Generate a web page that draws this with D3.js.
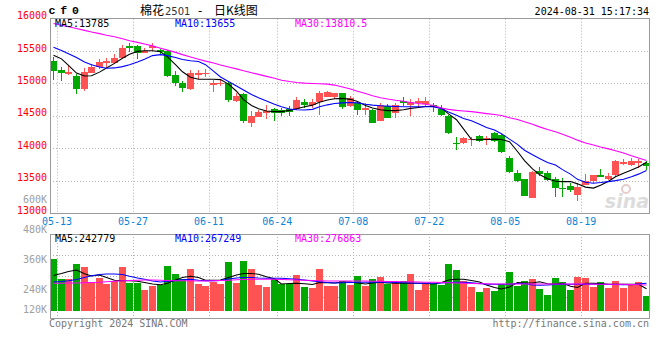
<!DOCTYPE html>
<html><head><meta charset="utf-8">
<script src="https://cdn.jsdelivr.net/npm/d3@7"></script>
<style>body{margin:0;background:#fff}svg{display:block}</style>
</head><body>
<svg id="c" width="660" height="360"></svg>
<script>
const dates = ["05-13","05-14","05-15","05-16","05-17","05-20","05-21","05-22","05-23","05-24",
"05-27","05-28","05-29","05-30","05-31","06-03","06-04","06-05","06-06","06-07",
"06-11","06-12","06-13","06-14","06-17","06-18","06-19","06-20","06-21",
"06-24","06-25","06-26","06-27","06-28","07-01","07-02","07-03","07-04","07-05",
"07-08","07-09","07-10","07-11","07-12","07-15","07-16","07-17","07-18","07-19",
"07-22","07-23","07-24","07-25","07-26","07-29","07-30","07-31","08-01","08-02",
"08-05","08-06","08-07","08-08","08-09","08-12","08-13","08-14","08-15","08-16",
"08-19","08-20","08-21","08-22","08-23","08-26","08-27","08-28","08-29","08-30"];
const open = [15350,15210,15145,15115,14920,15165,15250,15310,15310,15400,
15580,15580,15475,15545,15515,15500,15130,15010,14915,15130,
15140,14975,14985,15010,14730,14835,14395,14485,14550,14600,
14590,14605,14605,14720,14670,14710,14795,14795,14850,14655,
14705,14590,14590,14425,14650,14540,14730,14670,14695,14685,
14670,14600,14500,14085,14075,14130,14190,14125,14230,14205,
13855,13615,13520,13235,13655,13620,13520,13380,13415,13280,
13430,13495,13585,13525,13585,13750,13740,13775,13775];
const high = [15415,15260,15270,15140,15245,15300,15380,15400,15450,15595,
15620,15595,15550,15630,15530,15515,15190,15040,15210,15210,
15220,15055,15055,15025,14850,14850,14575,14590,14670,14625,
14625,14650,14795,14760,14755,14885,14890,14860,14860,14805,
14720,14695,14600,14695,14680,14695,14795,14755,14770,14785,
14695,14670,14515,14180,14180,14180,14210,14190,14250,14220,
13880,13665,13525,13650,13715,13650,13560,13535,13460,13470,
13595,13590,13675,13610,13820,13830,13855,13830,13805];
const low = [15055,15045,15130,14845,14885,15155,15225,15260,15295,15390,
15490,15375,15465,15505,15440,15105,14960,14875,14900,15065,
15095,14875,14960,14720,14720,14395,14330,14475,14450,14420,
14500,14505,14590,14615,14615,14515,14785,14755,14605,14640,
14515,14515,14385,14420,14460,14460,14650,14500,14640,14640,
14565,14500,14225,13975,14060,14035,14100,14050,14100,13930,
13610,13485,13260,13235,13570,13495,13240,13240,13330,13185,
13430,13470,13550,13510,13560,13740,13725,13690,13665];
const close = [15195,15155,15180,14920,15175,15260,15335,15345,15400,15550,
15545,15475,15505,15580,15480,15120,15010,14935,15165,15165,
15155,15010,15010,14745,14805,14420,14500,14565,14575,14540,
14540,14565,14745,14670,14720,14850,14865,14850,14640,14770,
14590,14615,14395,14670,14470,14670,14695,14715,14735,14735,
14630,14515,14240,14075,14165,14140,14110,14165,14115,13945,
13640,13495,13260,13640,13600,13510,13380,13365,13355,13405,
13495,13585,13560,13575,13810,13790,13805,13805,13730];
const volume = [364000,284000,284000,344000,333000,271000,289000,264000,276000,333000,
268000,268000,240000,257000,260000,337000,304000,283000,324000,264000,
257000,273000,265000,352000,269000,356000,324000,260000,253000,283000,
265000,263000,300000,253000,249000,324000,256000,256000,276000,260000,
296000,256000,284000,292000,264000,272000,276000,304000,240000,264000,
264000,259000,344000,320000,276000,252000,232000,248000,236000,264000,
312000,256000,276000,284000,244000,220000,288000,272000,240000,292000,
288000,252000,272000,248000,276000,248000,260000,272000,216000];
const ma5 = [15435,15380,15280,15160,15115,15120,15175,15240,15310,15390,
15450,15495,15505,15505,15490,15410,15290,15180,15095,15065,
15065,15065,15060,14990,14880,14750,14660,14610,14575,14565,
14565,14585,14610,14640,14665,14710,14745,14765,14770,14755,
14720,14660,14620,14595,14580,14580,14595,14615,14630,14645,
14645,14620,14530,14440,14300,14135,14130,14135,14140,14135,
14100,13950,13810,13680,13595,13530,13490,13485,13485,13450,
13400,13385,13430,13490,13560,13615,13665,13710,13785];
const ma10 = [15560,15510,15460,15400,15330,15290,15255,15235,15240,15260,
15290,15330,15375,15430,15445,15430,15400,15370,15350,15340,
15290,15190,15100,15030,14960,14900,14830,14780,14730,14680,
14640,14605,14595,14590,14600,14640,14670,14690,14700,14705,
14700,14680,14665,14655,14650,14645,14640,14640,14640,14640,
14640,14610,14560,14510,14460,14425,14370,14320,14280,14225,
14140,14060,13970,13900,13840,13780,13740,13670,13600,13520,
13475,13460,13470,13485,13500,13520,13560,13600,13655];
const ma30 = [15925,15900,15875,15850,15820,15795,15770,15745,15720,15690,
15660,15635,15610,15580,15545,15515,15480,15445,15410,15375,
15345,15315,15285,15255,15225,15195,15165,15140,15110,15080,
15050,15030,15015,15005,15000,14995,14990,14975,14945,14915,
14880,14845,14810,14780,14760,14740,14725,14705,14690,14680,
14660,14620,14600,14585,14575,14565,14550,14535,14520,14505,
14470,14445,14410,14370,14330,14290,14255,14215,14170,14125,
14080,14050,14020,13990,13960,13925,13885,13850,13810];
const volMa5 = [298,306,314,320,305,296,300,290,279,277,277,275,270,264,261,267,280,290,295,290,
279,279,280,290,300,306,306,303,293,285,264,266,267,265,262,270,269,268,272,272,
268,264,268,271,268,267,267,267,267,266,264,270,280,283,283,278,272,260,250,244,
252,270,268,268,273,265,264,267,255,250,267,267,266,263,263,263,263,263,245].map(v => v * 1000);
const volMa10 = [272,274,277,282,290,297,302,304,304,302,295,288,283,276,272,275,278,281,283,279,
277,277,278,284,288,290,290,288,287,287,287,285,283,280,276,273,270,268,269,270,
271,271,271,271,271,270,269,268,267,267,267,268,270,271,271,269,266,263,263,263,
263,266,266,260,259,260,262,263,263,263,263,263,263,262,262,261,261,264,267].map(v => v * 1000);
const volMa30 = [267,267,268,268,269,270,271,273,275,277,278,279,280,280,279,278,277,277,277,276,
276,277,278,279,281,282,283,283,283,283,282,281,280,279,278,277,276,276,276,276,
276,276,275,275,274,274,273,273,272,271,271,270,269,268,267,266,265,265,264,264,
264,264,264,264,264,264,264,264,264,264,264,263,263,263,263,263,262,261,260].map(v => v * 1000);

const priceTicks = [16000,15500,15000,14500,14000,13500,13000];
const volTicks = [480000,360000,240000,120000];
const dateTicks = ["05-13","05-27","06-11","06-24","07-08","07-22","08-05","08-19"];
const titleCode = "cf0";
const titleName = "棉花";
const titleContract = "2501";
const titleKind = "日K线图";
const stamp = "2024-08-31 15:17:34";
const priceMaText = ["MA5:13785","MA10:13655","MA30:13810.5"];
const volMaText = ["MA5:242779","MA10:267249","MA30:276863"];
const priceSideNote = "600K";

const UP = "#ff5252", DOWN = "#00a800";
const MA_COL = ["#000000","#0000ff","#ff00ff"];
const MONO = "'DejaVu Sans Mono', monospace";

const svg = d3.select("#c");
const x = d3.scaleBand().domain(dates).range([49.5, 649.5]);
const step = x.step();
const cx = d => Math.round(x(d) + step / 2);
const yP = d3.scaleLinear().domain([13000, 16000]).range([213, 18.7]);
const yV = d3.scaleLinear().domain([156000, 480000]).range([311, 230]);
const P = {l: 50, r: 649, t: 18.7, b: 213};
const V = {t: 234, b: 318};

const grid = svg.append("g").attr("stroke", "#b4b4b4").attr("stroke-dasharray", "1,2");
priceTicks.slice(1, -1).forEach(t => {
  const y = Math.round(yP(t)) + 0.5;
  grid.append("line").attr("x1", P.l).attr("x2", P.r).attr("y1", y).attr("y2", y);
});
[0.25, 0.5, 0.75].forEach(f => {
  const y = Math.round(V.t + (V.b - V.t) * f - 0.5) + 0.5;
  grid.append("line").attr("x1", P.l).attr("x2", P.r).attr("y1", y).attr("y2", y);
});
dateTicks.forEach(d => {
  const gx = Math.round(x(d) + step) + 0.5;
  grid.append("line").attr("x1", gx).attr("x2", gx).attr("y1", P.t).attr("y2", P.b);
  grid.append("line").attr("x1", gx).attr("x2", gx).attr("y1", V.t).attr("y2", V.b);
});

// watermark
const wm = svg.append("g");
wm.append("text").attr("x", 649).attr("y", 208).attr("text-anchor", "end")
  .attr("font-family", "'DejaVu Sans', sans-serif").attr("font-weight", "bold").attr("font-style", "italic")
  .attr("font-size", 19).attr("fill", "#dcdcdc").text("sina");
wm.append("circle").attr("cx", 626).attr("cy", 189).attr("r", 4).attr("fill", "none").attr("stroke", "#e6cccc").attr("stroke-width", 2);

// candles and volume bars
const cg = svg.append("g");
dates.forEach((d, i) => {
  const up = close[i] >= open[i];
  const col = up ? UP : DOWN;
  const c = cx(d);
  const yh = Math.round(yP(high[i])), yl = Math.round(yP(low[i]));
  cg.append("rect").attr("x", c).attr("width", 1).attr("y", yh).attr("height", Math.max(1, yl - yh)).attr("fill", col);
  const yt = Math.round(yP(Math.max(open[i], close[i])));
  const yb = Math.round(yP(Math.min(open[i], close[i])));
  cg.append("rect").attr("x", c - 3).attr("width", 7).attr("y", yt).attr("height", Math.max(1, yb - yt)).attr("fill", col);
  const vt = Math.round(yV(volume[i]));
  const vb = Math.round(yV(156000));
  cg.append("rect").attr("x", c - 3).attr("width", 7).attr("y", vt).attr("height", vb - vt).attr("fill", col);
});

// MA lines
const lp = d3.line().x((v, i) => cx(dates[i]) + 0.5).y(v => yP(v));
const lv = d3.line().x((v, i) => cx(dates[i]) + 0.5).y(v => yV(v));
[ma5, ma10, ma30].forEach((s, k) => svg.append("path").attr("d", lp(s)).attr("fill", "none").attr("stroke", MA_COL[k]).attr("stroke-width", 1.1));
[volMa5, volMa10, volMa30].forEach((s, k) => svg.append("path").attr("d", lv(s)).attr("fill", "none").attr("stroke", MA_COL[k]).attr("stroke-width", 1.1));

// frames
const fr = svg.append("g").attr("fill", "none").attr("stroke", "#9a9a9a");
fr.append("rect").attr("x", P.l + 0.5).attr("y", Math.round(P.t) - 0.5).attr("width", P.r - P.l).attr("height", Math.round(P.b) - Math.round(P.t) + 1);
fr.append("rect").attr("x", P.l + 0.5).attr("y", V.t + 0.5).attr("width", P.r - P.l).attr("height", V.b - V.t);

const txt = (g, s, x0, y0, opts = {}) => g.append("text").attr("x", x0).attr("y", y0)
  .attr("font-family", opts.font || MONO).attr("font-size", opts.size || 10)
  .attr("fill", opts.fill || "#000").attr("text-anchor", opts.anchor || "start")
  .attr("font-weight", opts.weight || "normal")
  .attr("letter-spacing", opts.ls || 0).text(s);
const tg = svg.append("g");
priceTicks.forEach(t => txt(tg, String(t), 47, Math.min(yP(t) + 0.5, 215), {fill: "#ff0000", anchor: "end"}));
txt(tg, priceSideNote, 47, 203, {fill: "#a0a0a0", anchor: "end"});
volTicks.forEach(t => txt(tg, (t / 1000) + "K", 47, Math.min(yV(t) + 3.3, 313.3), {fill: "#a0a0a0", anchor: "end"}));
dateTicks.forEach(d => txt(tg, d, x(d) + step, 225, {fill: "#0a84d6", anchor: "middle"}));

[55, 175, 295].forEach((lx, k) => {
  txt(tg, priceMaText[k], lx, 27, {fill: MA_COL[k]});
  txt(tg, volMaText[k], lx, 241.5, {fill: MA_COL[k]});
});

// header
txt(tg, titleCode, 48.5, 14, {size: 11.5, weight: "bold", font: "'Liberation Mono', monospace", ls: 4.8});
txt(tg, titleName, 140, 15, {size: 12, font: "'Noto Sans CJK SC', sans-serif"});
txt(tg, titleContract, 165, 14.5, {size: 10, fill: "#333", font: "'DejaVu Sans', sans-serif"});
txt(tg, "-", 196.5, 14.5, {size: 12, font: MONO});
txt(tg, titleKind, 214, 15, {size: 12, font: "'Noto Sans CJK SC', sans-serif"});
txt(tg, stamp, 649, 15, {anchor: "end"});

// footer
txt(tg, "Copyright 2024 SINA.COM", 49, 326.5, {fill: "#777"});
txt(tg, "http://finance.sina.com.cn", 649, 326.5, {fill: "#777", anchor: "end"});
</script>
</body></html>
